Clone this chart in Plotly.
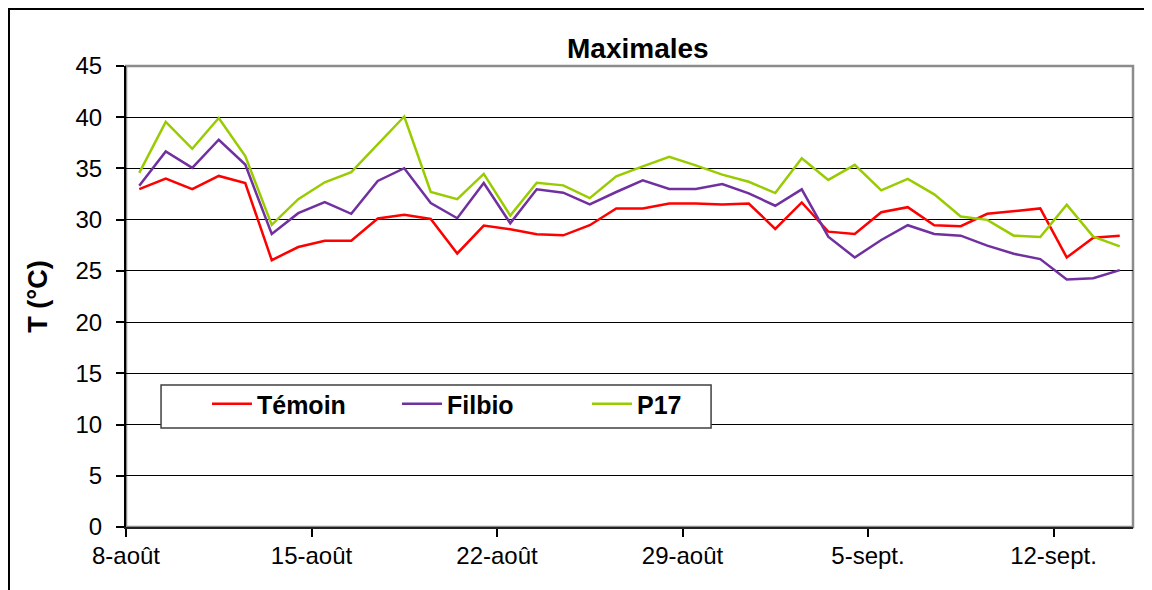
import pandas as pd
import plotly.graph_objects as go

# ---- data -------------------------------------------------------------
dates = pd.date_range("2009-08-08", "2009-09-14", freq="D")

temoin = [32.99, 34.00, 32.99, 34.27, 33.58, 26.05, 27.33, 27.95, 27.95, 30.11,
          30.47, 30.07, 26.70, 29.42, 29.06, 28.57, 28.47, 29.46, 31.10, 31.10,
          31.58, 31.58, 31.49, 31.58, 29.10, 31.68, 28.83, 28.60, 30.73, 31.22,
          29.46, 29.36, 30.57, 30.80, 31.10, 26.31, 28.24, 28.44]

filbio = [33.32, 36.66, 35.06, 37.80, 35.38, 28.60, 30.63, 31.72, 30.57, 33.78,
          35.02, 31.62, 30.14, 33.58, 29.65, 32.96, 32.63, 31.49, 32.70, 33.84,
          33.00, 33.00, 33.48, 32.57, 31.36, 32.96, 28.34, 26.31, 28.02, 29.46,
          28.60, 28.44, 27.46, 26.67, 26.15, 24.15, 24.28, 25.07]

p17 = [34.56, 39.54, 36.92, 39.93, 36.20, 29.49, 32.00, 33.65, 34.63, 37.35,
       40.07, 32.70, 32.00, 34.47, 30.40, 33.60, 33.35, 32.10, 34.24, 35.20,
       36.14, 35.30, 34.40, 33.70, 32.60, 36.00, 33.88, 35.35, 32.86, 33.98,
       32.47, 30.31, 29.98, 28.44, 28.31, 31.45, 28.34, 27.40]

series_names = ["Témoin", "Filbio", "P17"]
series_colors = ["#FF0000", "#7030A0", "#99CC00"]

tick_dates = ["2009-08-08", "2009-08-15", "2009-08-22", "2009-08-29",
              "2009-09-05", "2009-09-12"]
tick_labels = ["8-août", "15-août", "22-août", "29-août", "5-sept.", "12-sept."]
y_ticks = list(range(0, 50, 5))

# ---- figure -----------------------------------------------------------
FONT = "Liberation Sans, Arial, sans-serif"
fig = go.Figure()
for name, vals, col in zip(series_names, [temoin, filbio, p17], series_colors):
    fig.add_trace(go.Scatter(
        x=dates, y=vals, name=name, mode="lines",
        line=dict(color=col, width=2.5),
        xperiod=86400000, xperiodalignment="middle",
    ))

fig.update_layout(
    width=1152, height=590,
    margin=dict(l=118, r=27, t=58, b=71, autoexpand=False),
    paper_bgcolor="white", plot_bgcolor="white",
    font=dict(family=FONT, color="black", size=24),
    showlegend=True,
    legend=dict(
        orientation="h", x=0.0804, y=0.3167, xanchor="left", yanchor="top",
        bgcolor="rgba(0,0,0,0)", borderwidth=0,
        font=dict(family=FONT, size=25, color="black", weight="bold"),
        entrywidth=135, entrywidthmode="pixels",
        itemwidth=40,
    ),
    annotations=[dict(
        text="<b>Maximales</b>", x=0.508, y=1.037, xref="paper", yref="paper",
        xanchor="center", yanchor="middle", showarrow=False,
        font=dict(family=FONT, size=28, color="black"),
    )],
    shapes=[
        dict(type="rect", xref="paper", yref="paper", x0=0, x1=1, y0=0, y1=1,
             line=dict(color="#8C8C8C", width=2.5), layer="below"),
        dict(type="rect", xref="paper", yref="paper",
             x0=-0.1162, x1=1.2, y0=-0.3, y1=1.1236,
             line=dict(color="black", width=2), layer="below"),
        # legend frame
        dict(type="rect", xref="paper", yref="paper",
             x0=0.0348, x1=0.581, y0=0.2148, y1=0.308,
             line=dict(color="#404040", width=1.5), fillcolor="white",
             layer="above"),
    ],
)

fig.update_xaxes(
    type="date", range=["2009-08-08", "2009-09-15"],
    tickvals=tick_dates, ticktext=tick_labels,
    ticks="outside", ticklen=8, tickwidth=1.5, tickcolor="black",
    showline=True, linecolor="#222222", linewidth=2,
    showgrid=False, zeroline=False, automargin=False,
    tickfont=dict(family=FONT, size=24, color="black"),
    ticklabelstandoff=-2,
)
fig.update_yaxes(
    range=[0, 45], tickvals=y_ticks,
    ticks="outside", ticklen=8, tickwidth=1.5, tickcolor="black",
    showline=True, linecolor="black", linewidth=2,
    showgrid=True, gridcolor="black", gridwidth=1,
    zeroline=False, automargin=False,
    tickfont=dict(family=FONT, size=24, color="black"),
    ticklabelstandoff=9,
    title=dict(text="<b>T (°C)</b>", font=dict(family=FONT, size=27, color="black"),
               standoff=20),
)

fig.write_html("out.html")
